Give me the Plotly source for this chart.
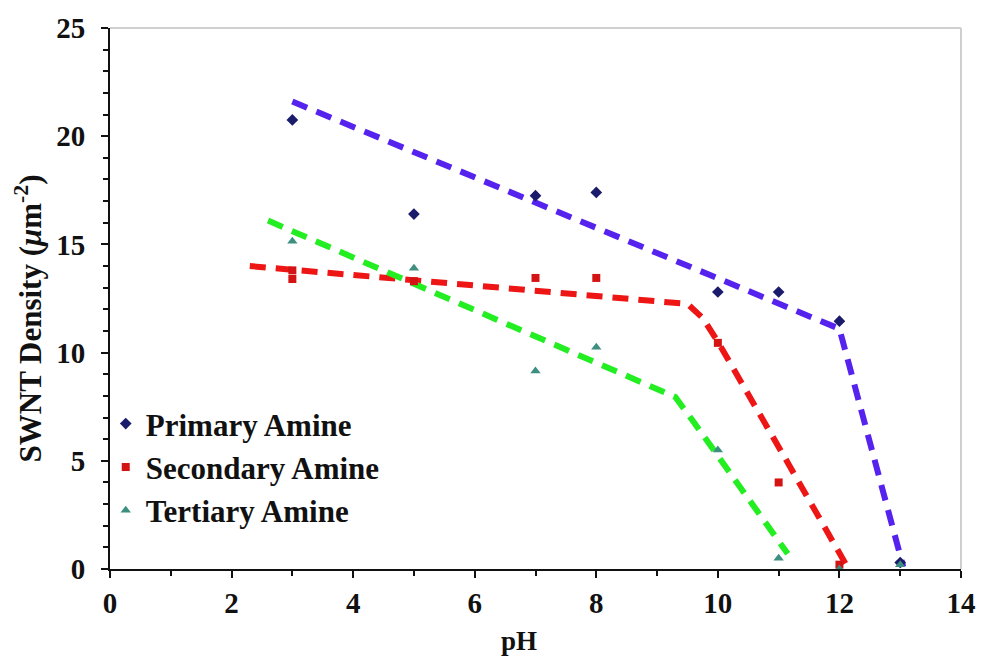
import plotly.graph_objects as go

ph = [3, 5, 7, 8, 10, 11, 12, 13]
primary = [20.75, 16.4, 17.25, 17.4, 12.8, 12.8, 11.45, 0.3]
secondary_ph = [3, 3, 5, 7, 8, 10, 11, 12]
secondary = [13.8, 13.4, 13.3, 13.45, 13.45, 10.45, 4.0, 0.2]
tertiary = [15.15, 13.9, 9.15, 10.25, 5.5, 0.5, 0.0, 0.2]

fit_primary_x = [3.0, 12.0, 13.05]
fit_primary_y = [21.6, 11.1, 0.1]
fit_secondary_x = [2.3, 9.5, 9.75, 10.0, 11.07, 12.15]
fit_secondary_y = [14.0, 12.25, 11.6, 10.5, 5.3, 0.0]
fit_tertiary_x = [2.6, 9.3, 9.6, 11.15]
fit_tertiary_y = [16.1, 7.95, 6.8, 0.7]

FONT = "Liberation Serif"
dash = "16px,10px"

fig = go.Figure()
fig.add_trace(go.Scatter(x=fit_primary_x, y=fit_primary_y, mode="lines",
                         line=dict(color="#5522ee", width=6, dash=dash), showlegend=False))
fig.add_trace(go.Scatter(x=fit_secondary_x, y=fit_secondary_y, mode="lines",
                         line=dict(color="#ee1515", width=6, dash=dash), showlegend=False))
fig.add_trace(go.Scatter(x=fit_tertiary_x, y=fit_tertiary_y, mode="lines",
                         line=dict(color="#22ee22", width=6, dash=dash), showlegend=False))

fig.add_trace(go.Scatter(x=ph, y=primary, mode="markers", name="Primary Amine",
                         marker=dict(symbol="diamond", size=9, color="#1b1b6b")))
fig.add_trace(go.Scatter(x=secondary_ph, y=secondary, mode="markers", name="Secondary Amine",
                         marker=dict(symbol="square", size=8, color="#d41414")))
fig.add_trace(go.Scatter(x=ph, y=tertiary, mode="markers", name="Tertiary Amine",
                         marker=dict(symbol="triangle-up", size=9, color="#3d8f7f")))

fig.update_layout(
    width=988, height=661,
    margin=dict(l=110, r=21, t=26, b=92),
    paper_bgcolor="white", plot_bgcolor="white",
    font=dict(family=FONT, color="#111111"),
    showlegend=True,
    legend=dict(x=-0.005, y=0.318, xanchor="left", yanchor="top",
                bgcolor="rgba(0,0,0,0)", borderwidth=0,
                font=dict(family=FONT, size=31, weight="bold", color="#111111"),
                itemsizing="trace", itemwidth=30, tracegroupgap=0),
    xaxis=dict(range=[0, 14], dtick=2, tick0=0, showgrid=False, zeroline=False,
               showline=True, linecolor="#111111", linewidth=2,
               ticks="outside", ticklen=7, tickwidth=2, tickcolor="#111111",
               minor=dict(dtick=1, ticks="outside", ticklen=5, tickwidth=2, tickcolor="#111111"),
               tickfont=dict(family=FONT, size=29, weight="bold")),
    yaxis=dict(range=[0, 25], dtick=5, tick0=0, showgrid=False, zeroline=False,
               showline=True, linecolor="#111111", linewidth=2,
               ticks="outside", ticklen=7, tickwidth=2, tickcolor="#111111",
               minor=dict(dtick=1, ticks="outside", ticklen=5, tickwidth=2, tickcolor="#111111"),
               ticklabelstandoff=10,
               tickfont=dict(family=FONT, size=29, weight="bold")),
    annotations=[
        dict(text="pH", xref="paper", yref="paper", x=(522 - 110) / 857, y=-(641 - 569) / 543,
             xanchor="center", yanchor="middle", showarrow=False,
             font=dict(family=FONT, size=27, weight="bold", color="#111111")),
        dict(text="SWNT Density (<i>μ</i>m<sup>-2</sup>)", xref="paper", yref="paper",
             x=-(110 - 28) / 857, y=(569 - 318) / 543, textangle=-90,
             xanchor="center", yanchor="middle", showarrow=False,
             font=dict(family=FONT, size=31, weight="bold", color="#111111")),
    ],
    shapes=[
        dict(type="line", xref="paper", yref="paper", x0=0, x1=1, y0=1, y1=1,
             line=dict(color="#cfcfcf", width=2)),
        dict(type="line", xref="paper", yref="paper", x0=1, x1=1, y0=0, y1=1,
             line=dict(color="#cfcfcf", width=2)),
    ],
)

fig.write_html("out.html")
